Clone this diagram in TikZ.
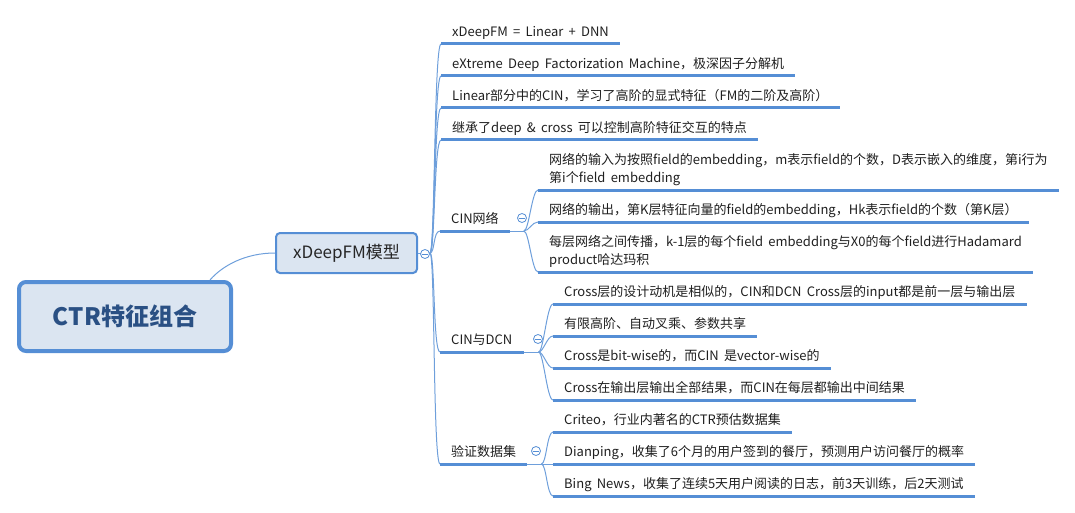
\documentclass[tikz,border=0pt]{standalone}
\usepackage{fontspec}
\setmainfont{Noto Sans CJK SC}[WordSpace=1.8]
\definecolor{mapline}{RGB}{85,142,213}
\definecolor{mapfill}{RGB}{219,229,241}
\definecolor{maptext}{RGB}{42,80,132}
\tikzset{
  mainbox/.style={draw=mapline, line width=4pt, fill=mapfill, rounded corners=7pt,
    minimum width=212pt, minimum height=69pt, text=maptext,
    font=\fontsize{24}{28}\selectfont\bfseries},
  subbox/.style={draw=mapline, line width=2pt, fill=mapfill, rounded corners=4pt,
    minimum width=141pt, minimum height=40pt, text=black!85,
    font=\fontsize{17}{20}\selectfont},
  leaf/.style={anchor=south west, inner xsep=11pt, inner ysep=4pt, text depth=3pt,
    align=left, text=black!88, font=\fontsize{13}{18}\selectfont},
  uline/.style={draw=mapline, line width=3pt},
  link/.style={draw=mapline!85, line width=1pt},
  fold/.style={circle, draw=mapline, fill=white, line width=.8pt, inner sep=0pt,
    minimum size=9pt, path picture={\draw[mapline, line width=.8pt]
      ([xshift=-2.6pt]path picture bounding box.center) --
      ([xshift=2.6pt]path picture bounding box.center);}}
}
\begin{document}
\begin{tikzpicture}[x=1pt, y=-1pt]
\useasboundingbox (0,0) rectangle (1075,513);
\node[mainbox] (root) at (125,316.5) {CTR特征组合};
\node[subbox] (xdfm) at (346.5,253) {xDeepFM模型};
\node[leaf] (a1) at (441,44) {xDeepFM = Linear + DNN};
\node[leaf] (a2) at (441,76) {eXtreme Deep Factorization Machine，极深因子分解机};
\node[leaf] (a3) at (441,108) {Linear部分中的CIN，学习了高阶的显式特征（FM的二阶及高阶）};
\node[leaf] (a4) at (441,140) {继承了deep \& cross 可以控制高阶特征交互的特点};
\node[leaf] (cin) at (440,231) {CIN网络};
\node[leaf] (dcn) at (440,352) {CIN与DCN};
\node[leaf] (data) at (440,464) {验证数据集};
\node[leaf] (c1) at (538,190) {网络的输入为按照field的embedding，m表示field的个数，D表示嵌入的维度，第i行为\\第i个field embedding};
\node[leaf] (c2) at (538,222) {网络的输出，第K层特征向量的field的embedding，Hk表示field的个数（第K层）};
\node[leaf] (c3) at (538,272) {每层网络之间传播，k-1层的每个field embedding与X0的每个field进行Hadamard\\product哈达玛积};
\node[leaf] (d1) at (553,304) {Cross层的设计动机是相似的，CIN和DCN Cross层的input都是前一层与输出层};
\node[leaf] (d2) at (553,336) {有限高阶、自动叉乘、参数共享};
\node[leaf] (d3) at (553,368) {Cross是bit-wise的，而CIN 是vector-wise的};
\node[leaf] (d4) at (553,400) {Cross在输出层输出全部结果，而CIN在每层都输出中间结果};
\node[leaf] (e1) at (553,432) {Criteo，行业内著名的CTR预估数据集};
\node[leaf] (e2) at (553,464) {Dianping，收集了6个月的用户签到的餐厅，预测用户访问餐厅的概率};
\node[leaf] (e3) at (553,496) {Bing News，收集了连续5天用户阅读的日志，前3天训练，后2天测试};
\coordinate (xj) at (430,253);
\coordinate (cj) at ([xshift=14pt]cin.south east);
\coordinate (dj) at ([xshift=15pt]dcn.south east);
\coordinate (ej) at ([xshift=14pt]data.south east);
\draw[link] ([xshift=-23pt]root.north east) .. controls +(12,-14) and +(-30,0) .. (xdfm.west);
\draw[link] (xdfm.east) -- (xj);
\foreach \n in {a1,a2,a3,a4,cin,dcn,data}
  \draw[link] (xj) .. controls +(5,0) and +(-7,0) .. (\n.south west);
\draw[link] (cin.south east) -- (cj);
\foreach \n in {c1,c2,c3}
  \draw[link] (cj) .. controls +(5,0) and +(-6,0) .. (\n.south west);
\draw[link] (dcn.south east) -- (dj);
\foreach \n in {d1,d2,d3,d4}
  \draw[link] (dj) .. controls +(5,0) and +(-6,0) .. (\n.south west);
\draw[link] (data.south east) -- (ej);
\foreach \n in {e1,e2,e3}
  \draw[link] (ej) .. controls +(5,0) and +(-6,0) .. (\n.south west);
\foreach \n in {a1,a2,a3,a4,cin,dcn,data,c1,c2,c3,d1,d2,d3,d4,e1,e2,e3}
  \draw[uline] (\n.south west) -- (\n.south east);
\node[fold] (xfold) at (425,254) {};
\node[fold] (cfold) at (522,218) {};
\node[fold] (dfold) at (538,339) {};
\node[fold] (efold) at (536,451) {};
\end{tikzpicture}
\end{document}
